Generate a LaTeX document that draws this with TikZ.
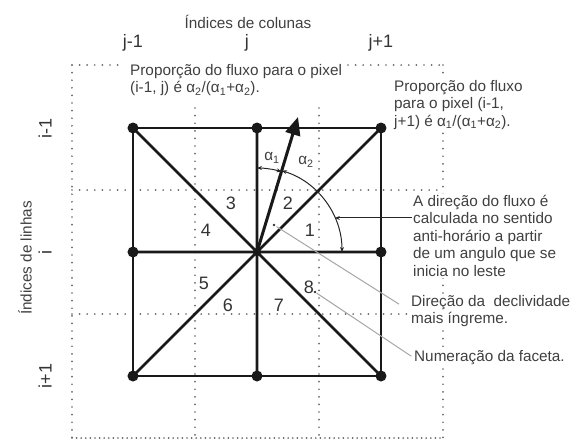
\documentclass[tikz,border=0pt]{standalone}
\usepackage{fontspec}
\setmainfont{Liberation Sans}
\usetikzlibrary{arrows.meta}

\begin{document}
\begin{tikzpicture}[x=1pt,y=1pt,
  guide/.style={black!60, line width=1.9pt, line cap=round, dash pattern=on 0pt off 7.6pt},
  grid/.style={black!90, line width=2.6pt},
  pt/.style={black!90},
  flow/.style={black!90, line width=3pt, -{Triangle[length=18pt,width=15pt]}},
  ang/.style={black!85, line width=1pt},
  tip/.style={-{Stealth[length=5pt,width=4pt]}},
  leader/.style={black!35, line width=1pt},
  note/.style={font=\fontsize{15.3}{17.5}\selectfont, text=black!75, align=left, inner sep=1pt},
  idx/.style={font=\fontsize{18}{20}\selectfont, text=black!80, inner sep=0pt},
  num/.style={font=\fontsize{18}{20}\selectfont, text=black!80, inner sep=0pt}]
\useasboundingbox (-257,-188) rectangle (314,252);

% pixel borders and centres
\draw[guide] (-185,187) -- (-137,187) (91,187) -- (186,187);
\draw[guide] (-185,187) -- (-185,-186) (186,187) -- (186,-186);
\draw[guide, dash pattern=on 0pt off 4.6pt] (-185,-186) -- (186,-186);
\draw[guide] (-62,144) -- (-62,-186) (62,144) -- (62,-186);
\draw[guide] (-185,62) -- (186,62) (-185,-62) -- (186,-62);

% 3x3 pixel centres
\coordinate (c) at (0,0);
\coordinate (tl) at (-124,124);
\coordinate (tc) at (0,124);
\coordinate (tr) at (124,124);
\coordinate (ml) at (-124,0);
\coordinate (mr) at (124,0);
\coordinate (bl) at (-124,-124);
\coordinate (bc) at (0,-124);
\coordinate (br) at (124,-124);
\draw[grid] (tl) rectangle (br);
\draw[grid] (ml) -- (mr) (tc) -- (bc) (tl) -- (br) (tr) -- (bl);
\foreach \p in {tl,tc,tr,ml,mr,bl,bc,br}
  \fill[pt] (\p) circle (5.5);

% facets
\node[num] (f1) at (53,22) {1};
\node[num] (f2) at (31,49) {2};
\node[num] (f3) at (-26,49) {3};
\node[num] (f4) at (-51,22) {4};
\node[num] (f5) at (-53,-31) {5};
\node[num] (f6) at (-29,-53) {6};
\node[num] (f7) at (22,-53) {7};
\node[num] (f8) at (52,-35) {8};

% flow direction and angles
\coordinate (fl) at (41,135);
\draw[flow] (c) -- (fl);
\draw[ang, tip] (80:84) arc (80:90:84);
\draw[ang, tip] (80:84) arc (80:73:84);
\draw[ang, {Stealth[length=5pt,width=4pt]}-{Stealth[length=5pt,width=4pt]}] (73:85) arc (73:0:85);
\node[note] (a1) at (15,94) {α\textsubscript{1}};
\node[note] (a2) at (49,90) {α\textsubscript{2}};

% notes
\node[note, anchor=north west] (pl) at (-128,189)
  {Proporção do fluxo para o pixel\\(i-1, j) é α\textsubscript{2}/(α\textsubscript{1}+α\textsubscript{2}).};
\node[note, fill=white, anchor=north west] (pr) at (136,173)
  {Proporção do fluxo\\para o pixel (i-1,\\j+1) é α\textsubscript{1}/(α\textsubscript{1}+α\textsubscript{2}).};
\node[note, fill=white, anchor=north west] (dir) at (155,58)
  {A direção do fluxo é\\calculada no sentido\\anti-horário a partir\\de um angulo que se\\inicia no leste};
\node[note, fill=white, anchor=north west] (decl) at (153,-42)
  {Direção da \ declividade\\mais íngreme.};
\node[note, fill=white, anchor=north west] (face) at (156,-97)
  {Numeração da faceta.};

\coordinate (a) at (23.6:85);
\draw[ang, tip] (dir.west |- a) -- (a);

\coordinate (s) at (17,27);
\coordinate (s8) at (58,-40);
\fill[black!80] (s) circle (1.4);
\fill[black!80] (s8) circle (1.4);
\draw[leader, shorten <=3pt, shorten >=13pt] (s) -- (decl.west);
\draw[leader, shorten <=2pt, shorten >=2pt] (s8) -- (face.west);

% indices
\node[note] (cols) at (-9,230) {Índices de colunas};
\node[idx] (j0) at (-124,209) {j-1};
\node[idx] (j1) at (-10,209) {j};
\node[idx] (j2) at (124,209) {j+1};
\node[note, rotate=90] (rows) at (-232,-6) {Índices de linhas};
\node[idx, rotate=90] (i0) at (-212,124) {i-1};
\node[idx, rotate=90] (i1) at (-212,0) {i};
\node[idx, rotate=90] (i2) at (-212,-124) {i+1};
\end{tikzpicture}
\end{document}
